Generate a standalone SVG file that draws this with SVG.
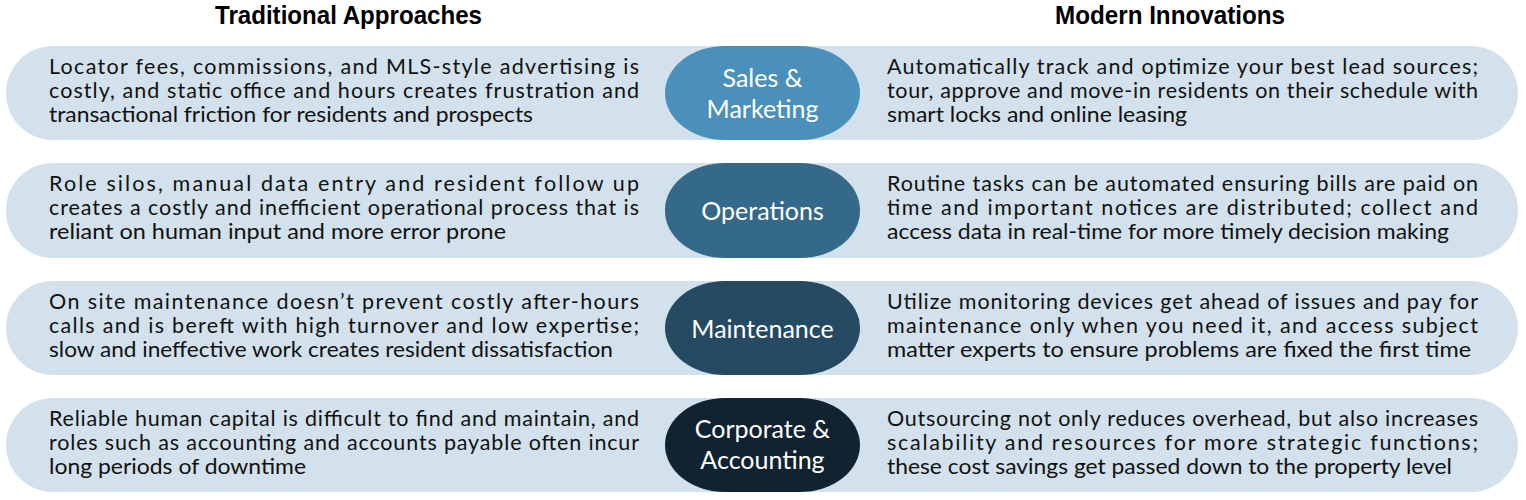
<svg xmlns="http://www.w3.org/2000/svg" width="1526" height="500" viewBox="0 0 1526 500">
<style>
.bg{fill:#ffffff}
.bar{fill:#d2e1eb}
.hdr{font-family:"Liberation Sans",Arial,sans-serif;font-weight:bold;font-size:25px;fill:#000000}
.body{font-family:Lato,"Liberation Sans",sans-serif;font-size:21.5px;fill:#111111}
.pill-t{font-family:Lato,"Liberation Sans",sans-serif;font-size:25px;fill:#ffffff;text-anchor:middle}
.p1{fill:#4a90ba}
.p2{fill:#346989}
.p3{fill:#254a61}
.p4{fill:#112331}
</style>
<rect class="bg" x="0" y="0" width="1526" height="500"/>
<g id="headers">
<text class="hdr" x="215" y="24" textLength="267" lengthAdjust="spacingAndGlyphs">Traditional Approaches</text>
<text class="hdr" x="1055" y="24" textLength="230" lengthAdjust="spacingAndGlyphs">Modern Innovations</text>
</g>

<g id="row-sales">
<rect class="bar" x="6" y="46" width="1512" height="94" rx="47" ry="47"/>
<g id="sales-traditional" class="body">
<text x="49" y="73.5" textLength="590" lengthAdjust="spacing">Locator fees, commissions, and MLS-style advertising is</text>
<text x="49" y="97.5" textLength="590" lengthAdjust="spacing">costly, and static office and hours creates frustration and</text>
<text x="49" y="121.5" textLength="484" lengthAdjust="spacingAndGlyphs">transactional friction for residents and prospects</text>
</g>
<g id="node-sales">
<rect class="p1" x="665" y="46" width="195" height="94" rx="60" ry="47"/>
<text class="pill-t" x="762.5" y="87">Sales &amp;</text>
<text class="pill-t" x="762.5" y="118">Marketing</text>
</g>
<g id="sales-modern" class="body">
<text x="887" y="73.5" textLength="591" lengthAdjust="spacing">Automatically track and optimize your best lead sources;</text>
<text x="887" y="97.5" textLength="591" lengthAdjust="spacing">tour, approve and move-in residents on their schedule with</text>
<text x="887" y="121.5" textLength="300" lengthAdjust="spacingAndGlyphs">smart locks and online leasing</text>
</g>
</g>

<g id="row-operations">
<rect class="bar" x="6" y="163" width="1512" height="95" rx="47" ry="47"/>
<g id="operations-traditional" class="body">
<text x="49" y="191" textLength="590" lengthAdjust="spacing">Role silos, manual data entry and resident follow up</text>
<text x="49" y="215" textLength="590" lengthAdjust="spacing">creates a costly and inefficient operational process that is</text>
<text x="49" y="239" textLength="457" lengthAdjust="spacingAndGlyphs">reliant on human input and more error prone</text>
</g>
<g id="node-operations">
<rect class="p2" x="665" y="163" width="195" height="95" rx="60" ry="47"/>
<text class="pill-t" x="762.5" y="220">Operations</text>
</g>
<g id="operations-modern" class="body">
<text x="887" y="191" textLength="591" lengthAdjust="spacing">Routine tasks can be automated ensuring bills are paid on</text>
<text x="887" y="215" textLength="591" lengthAdjust="spacing">time and important notices are distributed; collect and</text>
<text x="887" y="239" textLength="562" lengthAdjust="spacingAndGlyphs">access data in real-time for more timely decision making</text>
</g>
</g>

<g id="row-maintenance">
<rect class="bar" x="6" y="281" width="1512" height="94" rx="47" ry="47"/>
<g id="maintenance-traditional" class="body">
<text x="49" y="308.5" textLength="590" lengthAdjust="spacing">On site maintenance doesn’t prevent costly after-hours</text>
<text x="49" y="332.5" textLength="590" lengthAdjust="spacing">calls and is bereft with high turnover and low expertise;</text>
<text x="49" y="356.5" textLength="564" lengthAdjust="spacingAndGlyphs">slow and ineffective work creates resident dissatisfaction</text>
</g>
<g id="node-maintenance">
<rect class="p3" x="665" y="281" width="195" height="94" rx="60" ry="47"/>
<text class="pill-t" x="762.5" y="338">Maintenance</text>
</g>
<g id="maintenance-modern" class="body">
<text x="887" y="308.5" textLength="591" lengthAdjust="spacing">Utilize monitoring devices get ahead of issues and pay for</text>
<text x="887" y="332.5" textLength="591" lengthAdjust="spacing">maintenance only when you need it, and access subject</text>
<text x="887" y="356.5" textLength="584" lengthAdjust="spacingAndGlyphs">matter experts to ensure problems are fixed the first time</text>
</g>
</g>

<g id="row-corporate">
<rect class="bar" x="6" y="398" width="1512" height="94" rx="47" ry="47"/>
<g id="corporate-traditional" class="body">
<text x="49" y="425.5" textLength="590" lengthAdjust="spacing">Reliable human capital is difficult to find and maintain, and</text>
<text x="49" y="449.5" textLength="590" lengthAdjust="spacing">roles such as accounting and accounts payable often incur</text>
<text x="49" y="473.5" textLength="257" lengthAdjust="spacingAndGlyphs">long periods of downtime</text>
</g>
<g id="node-corporate">
<rect class="p4" x="665" y="398" width="195" height="94" rx="60" ry="47"/>
<text class="pill-t" x="762.5" y="438">Corporate &amp;</text>
<text class="pill-t" x="762.5" y="469">Accounting</text>
</g>
<g id="corporate-modern" class="body">
<text x="887" y="425.5" textLength="591" lengthAdjust="spacing">Outsourcing not only reduces overhead, but also increases</text>
<text x="887" y="449.5" textLength="591" lengthAdjust="spacing">scalability and resources for more strategic functions;</text>
<text x="887" y="473.5" textLength="565" lengthAdjust="spacingAndGlyphs">these cost savings get passed down to the property level</text>
</g>
</g>
</svg>
